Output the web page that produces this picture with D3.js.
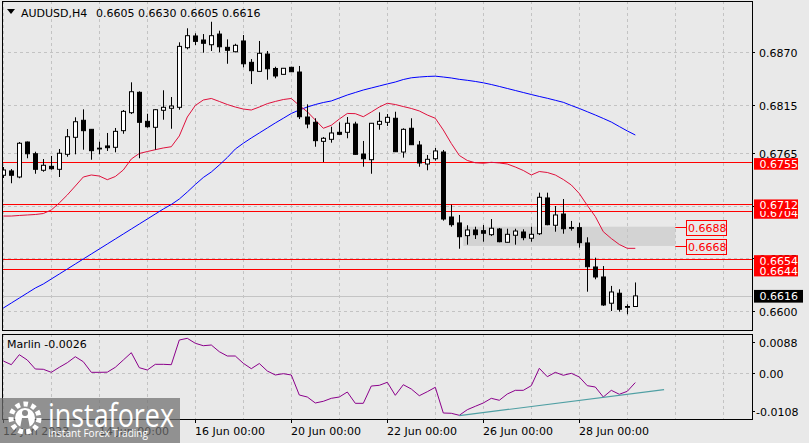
<!DOCTYPE html>
<html><head><meta charset="utf-8">
<script src="https://cdn.jsdelivr.net/npm/d3@7"></script>
<style>body{margin:0;background:#e9e9e9;} svg{display:block;}</style>
</head><body>
<svg id="c" width="809" height="443"></svg>
<script>
// ---------- data ----------
const days = ["12 Jun","13 Jun","14 Jun","15 Jun","16 Jun","19 Jun","20 Jun","21 Jun","22 Jun","23 Jun","26 Jun","27 Jun","28 Jun","29 Jun"];
const hours = ["00:00","04:00","08:00","12:00","16:00","20:00"];
const open = [0.67415,0.67460,0.67397,0.67761,0.67639,0.67467,0.67508,0.67477,0.67633,0.67810,
0.67987,0.67893,0.67697,0.67720,0.67706,0.67879,0.68066,0.68278,0.67976,0.67914,
0.68091,0.68112,0.68122,0.68742,0.68864,0.68822,0.68773,0.68884,0.68746,0.68700,
0.68812,0.68590,0.68496,0.68676,0.68526,0.68465,0.68538,0.68489,0.68021,0.67966,
0.67768,0.67789,0.67862,0.67862,0.67948,0.67636,0.67577,0.67945,0.67966,0.68008,
0.67657,0.67904,0.67730,0.67532,0.67587,0.67657,0.66981,0.66919,0.66787,0.66846,
0.66839,0.66797,0.66856,0.66718,0.66791,0.66825,0.66760,0.66807,0.67179,0.66895,
0.67012,0.66872,0.66870,0.66711,0.66461,0.66357,0.66084,0.66188,0.66050,0.66050];
const high = [0.67501,0.67480,0.67761,0.67766,0.67660,0.67584,0.67616,0.67688,0.67896,0.68018,
0.68101,0.67896,0.67764,0.67855,0.67907,0.68094,0.68382,0.68288,0.68055,0.68104,
0.68299,0.68229,0.68798,0.68944,0.68892,0.68884,0.69012,0.68919,0.68829,0.68783,
0.68874,0.68624,0.68812,0.68708,0.68544,0.68531,0.68544,0.68552,0.68153,0.68008,
0.67813,0.67920,0.67966,0.68021,0.67972,0.67772,0.67959,0.68070,0.68052,0.68076,
0.67904,0.68008,0.67772,0.67626,0.67699,0.67678,0.67109,0.67002,0.66895,0.66880,
0.66898,0.66960,0.66867,0.66859,0.66859,0.66853,0.66880,0.67234,0.67234,0.67095,
0.67168,0.66940,0.66922,0.66770,0.66558,0.66471,0.66264,0.66229,0.66073,0.66300];
const low = [0.67387,0.67332,0.67384,0.67592,0.67431,0.67452,0.67473,0.67397,0.67608,0.67633,
0.67681,0.67577,0.67633,0.67668,0.67654,0.67847,0.68052,0.67592,0.67910,0.67681,
0.67993,0.67899,0.68097,0.68725,0.68770,0.68690,0.68708,0.68694,0.68575,0.68694,
0.68538,0.68364,0.68494,0.68409,0.68424,0.68462,0.68489,0.68000,0.67904,0.67712,
0.67553,0.67754,0.67834,0.67800,0.67630,0.67504,0.67431,0.67889,0.67928,0.67657,
0.67598,0.67730,0.67504,0.67467,0.67567,0.66943,0.66880,0.66651,0.66693,0.66752,
0.66724,0.66784,0.66718,0.66716,0.66693,0.66739,0.66724,0.66794,0.66895,0.66828,
0.66807,0.66839,0.66662,0.66204,0.66333,0.66056,0.66003,0.65996,0.65969,0.66050];
const close = [0.67470,0.67415,0.67748,0.67639,0.67477,0.67519,0.67483,0.67644,0.67816,0.67972,
0.67879,0.67671,0.67694,0.67702,0.67872,0.68080,0.68284,0.67966,0.67920,0.68097,
0.68122,0.68136,0.68756,0.68867,0.68808,0.68788,0.68867,0.68752,0.68715,0.68767,
0.68575,0.68503,0.68684,0.68523,0.68448,0.68528,0.68492,0.68024,0.67948,0.67775,
0.67800,0.67855,0.67841,0.67956,0.67633,0.67587,0.67956,0.67976,0.68018,0.67660,
0.67893,0.67733,0.67543,0.67581,0.67668,0.66960,0.66901,0.66776,0.66846,0.66797,
0.66812,0.66864,0.66724,0.66801,0.66835,0.66766,0.66801,0.67186,0.66901,0.67002,
0.66859,0.66869,0.66714,0.66464,0.66357,0.66066,0.66201,0.66021,0.66047,0.66160];
const maFast = [0.66991,0.66991,0.66997,0.67002,0.67007,0.67017,0.67054,0.67127,0.67210,0.67303,
0.67397,0.67418,0.67407,0.67369,0.67402,0.67470,0.67584,0.67642,0.67662,0.67681,
0.67699,0.67712,0.67824,0.68021,0.68141,0.68198,0.68214,0.68183,0.68151,0.68125,
0.68104,0.68094,0.68125,0.68160,0.68183,0.68203,0.68214,0.68141,0.68076,0.67990,
0.67904,0.67935,0.68000,0.68058,0.68056,0.68024,0.68073,0.68125,0.68164,0.68151,
0.68130,0.68110,0.68084,0.68042,0.68008,0.67886,0.67746,0.67621,0.67569,0.67545,
0.67540,0.67550,0.67543,0.67532,0.67501,0.67465,0.67418,0.67454,0.67444,0.67418,
0.67371,0.67314,0.67225,0.67101,0.66986,0.66828,0.66757,0.66695,0.66655,0.66655];
const maSlow = [0.66034,0.66086,0.66138,0.66190,0.66242,0.66284,0.66336,0.66388,0.66440,0.66492,
0.66544,0.66596,0.66648,0.66700,0.66752,0.66804,0.66856,0.66908,0.66960,0.67012,
0.67064,0.67111,0.67168,0.67241,0.67319,0.67392,0.67449,0.67522,0.67600,0.67688,
0.67748,0.67803,0.67855,0.67907,0.67959,0.68008,0.68058,0.68094,0.68125,0.68151,
0.68172,0.68188,0.68219,0.68250,0.68276,0.68302,0.68323,0.68344,0.68365,0.68385,
0.68411,0.68429,0.68437,0.68443,0.68446,0.68437,0.68427,0.68413,0.68403,0.68391,
0.68377,0.68359,0.68339,0.68318,0.68297,0.68276,0.68255,0.68235,0.68216,0.68195,
0.68174,0.68141,0.68110,0.68076,0.68042,0.68006,0.67969,0.67922,0.67876,0.67834];
const marlin = [0.00332,0.00227,0.00511,0.00360,0.00105,0.00097,0.00011,0.00153,0.00284,0.00454,
0.00312,0.00011,0.00011,0.00015,0.00153,0.00360,0.00568,0.00142,0.00077,0.00238,
0.00238,0.00227,0.00928,0.00976,0.00835,0.00766,0.00786,0.00596,0.00474,0.00474,
0.00267,0.00114,0.00261,0.00048,-0.00065,-0.00028,-0.00065,-0.00633,-0.00690,-0.00860,
-0.00812,-0.00727,-0.00690,-0.00548,-0.00869,-0.00869,-0.00378,-0.00358,-0.00272,-0.00642,
-0.00341,-0.00463,-0.00653,-0.00539,-0.00414,-0.01144,-0.01152,-0.01209,-0.01050,-0.00954,
-0.00860,-0.00727,-0.00783,-0.00605,-0.00500,-0.00500,-0.00369,0.00125,-0.00114,0.00011,
-0.00074,-0.00017,-0.00122,-0.00369,-0.00406,-0.00690,-0.00500,-0.00613,-0.00528,-0.00280];
const levels = [0.6704, 0.6712, 0.6654, 0.6644, 0.6755];   // drawn in this order
const priceTicks = [0.6870, 0.6815, 0.6765, 0.6710, 0.6655, 0.6600];
const marlinTicks = [0.0088, 0, -0.0108];
const marlinTickLabels = ["0.0088", "0.00", "-0.0108"];
const zone = [0.6688, 0.6668];
const zoneBars = [57.5, 84];
const lastPrice = 0.6616;
const trendBars = [57, 82.6];
const trendVals = [-0.0122, -0.0048];
const symbol = "AUDUSD,H4";
const marlinName = "Marlin";
const marlinLast = "-0.0026";

// ---------- build ----------
const categories = [];
days.forEach(d => hours.forEach(h => categories.push(d + " " + h)));
const bars = open.map((o, i) => ({i, o, h: high[i], l: low[i], c: close[i], t: categories[i]}));

const svg = d3.select("#c");
const FONT = "DejaVu Sans";
const L = 2, R = 752, T = 1, B = 330, IT = 334, IB = 419;
const x = d3.scaleLinear().domain([0, 79]).range([3.3, 635.3]);
const y = d3.scaleLinear().domain([0.658055, 0.692175]).range([330, 2]);
const yi = d3.scaleLinear().domain([-0.013284, 0.010985]).range([419.5, 334]);
const px = v => Math.round(v);

svg.append("rect").attr("width", 809).attr("height", 443).attr("fill", "#e9e9e9");

const defs = svg.append("defs");
defs.append("clipPath").attr("id", "cm").append("rect").attr("x", L + 1).attr("y", T + 1).attr("width", R - L - 1).attr("height", B - T - 1);
defs.append("clipPath").attr("id", "ci").append("rect").attr("x", L + 1).attr("y", IT + 1).attr("width", R - L - 1).attr("height", IB - IT - 1);

const gm = svg.append("g").attr("clip-path", "url(#cm)");
const gi = svg.append("g").attr("clip-path", "url(#ci)");

// zone rectangle
gm.append("rect").attr("x", x(zoneBars[0])).attr("y", y(zone[0]))
  .attr("width", x(zoneBars[1]) - x(zoneBars[0])).attr("height", y(zone[1]) - y(zone[0]))
  .attr("fill", "#d3d3d3");

// grid
const gridIdx = d3.range(0, 130, 6).filter(i => x(i) < R);
const gridStyle = s => s.attr("stroke", "#c3c3c3").attr("stroke-dasharray", "3,3").attr("stroke-width", 1);
gm.selectAll(".vg").data(gridIdx).join("line").attr("x1", i => px(x(i)) + 0.5).attr("x2", i => px(x(i)) + 0.5)
  .attr("y1", T).attr("y2", B).call(gridStyle);
gm.selectAll(".hg").data(priceTicks).join("line").attr("x1", L).attr("x2", R)
  .attr("y1", d => px(y(d)) + 0.5).attr("y2", d => px(y(d)) + 0.5).call(gridStyle);
gi.selectAll(".vg").data(gridIdx).join("line").attr("x1", i => px(x(i)) + 0.5).attr("x2", i => px(x(i)) + 0.5)
  .attr("y1", IT).attr("y2", IB).call(gridStyle);
gi.append("line").attr("x1", L).attr("x2", R).attr("y1", px(yi(0)) + 0.5).attr("y2", px(yi(0)) + 0.5).call(gridStyle);

// current price line
gm.append("line").attr("x1", L).attr("x2", R).attr("y1", px(y(lastPrice)) + 0.5).attr("y2", px(y(lastPrice)) + 0.5)
  .attr("stroke", "#c4c4c4");

// horizontal levels
gm.selectAll(".lv").data(levels).join("line").attr("x1", L).attr("x2", R)
  .attr("y1", d => px(y(d)) + 0.5).attr("y2", d => px(y(d)) + 0.5).attr("stroke", "#ff0000").attr("stroke-width", 1);

// moving averages
const lineGen = d3.line().x((d, i) => x(i)).y(d => y(d));
gm.append("path").datum(maSlow).attr("d", lineGen).attr("fill", "none").attr("stroke", "#0000ff").attr("stroke-width", 1);
gm.append("path").datum(maFast).attr("d", lineGen).attr("fill", "none").attr("stroke", "#e0103c").attr("stroke-width", 1);

// candles
const cg = gm.selectAll(".cd").data(bars).join("g");
cg.append("line").attr("x1", d => px(x(d.i)) + 0.5).attr("x2", d => px(x(d.i)) + 0.5)
  .attr("y1", d => y(d.h)).attr("y2", d => y(d.l)).attr("stroke", "#000");
cg.append("rect")
  .attr("x", d => px(x(d.i)) - 2 + 0.5).attr("width", 4)
  .attr("y", d => Math.min(y(d.o), y(d.c)))
  .attr("height", d => Math.max(0.8, Math.abs(y(d.o) - y(d.c))))
  .attr("fill", d => d.c >= d.o ? "#ffffff" : "#000000")
  .attr("stroke", "#000").attr("stroke-width", 1);

// marlin
const mGen = d3.line().x((d, i) => x(i)).y(d => yi(d));
gi.append("path").datum(marlin).attr("d", mGen).attr("fill", "none").attr("stroke", "#8b008b").attr("stroke-width", 1);
gi.append("line").attr("x1", x(trendBars[0])).attr("y1", yi(trendVals[0])).attr("x2", x(trendBars[1])).attr("y2", yi(trendVals[1]))
  .attr("stroke", "#4f9fa3").attr("stroke-width", 1.2);

// frames
svg.append("rect").attr("x", L + 0.5).attr("y", T + 0.5).attr("width", R - L).attr("height", B - T)
  .attr("fill", "none").attr("stroke", "#000");
svg.append("rect").attr("x", L + 0.5).attr("y", IT + 0.5).attr("width", R - L).attr("height", IB - IT)
  .attr("fill", "none").attr("stroke", "#000");

// right axis labels
const txt = (g, xx, yy, s, col, anchor) => g.append("text").attr("x", xx).attr("y", yy).text(s)
  .attr("font-family", FONT).attr("font-size", 11).attr("fill", col || "#000").attr("text-anchor", anchor || "start");
const priceTickLabels = priceTicks.map(d => d.toFixed(4));
priceTicks.forEach((d, k) => {
  const yy = px(y(d)) + 0.5;
  svg.append("line").attr("x1", R).attr("x2", R + 3).attr("y1", yy).attr("y2", yy).attr("stroke", "#000");
  txt(svg, 759, yy + 4.5, priceTickLabels[k]);
});
marlinTicks.forEach((d, k) => {
  const yy = px(yi(d)) + 0.5;
  svg.append("line").attr("x1", R).attr("x2", R + 3).attr("y1", yy).attr("y2", yy).attr("stroke", "#000");
  txt(svg, d < 0 ? 756 : 759, yy + 4.5, marlinTickLabels[k]);
});
levels.forEach(d => {
  const yy = y(d);
  svg.append("rect").attr("x", 754).attr("y", yy - 4.2).attr("width", 44).attr("height", 11.6).attr("fill", "#ff0000");
  txt(svg, 759.5, yy + 5.8, d.toFixed(4), "#ffffff");
});
{
  const yy = y(lastPrice);
  svg.append("rect").attr("x", 754).attr("y", yy - 6).attr("width", 49).attr("height", 12.7).attr("fill", "#000");
  txt(svg, 759.5, yy + 4.2, lastPrice.toFixed(4), "#ffffff");
}
// zone labels
zone.forEach(d => {
  const yy = y(d);
  svg.append("line").attr("x1", x(zoneBars[1])).attr("x2", 686).attr("y1", px(yy) + 0.5).attr("y2", px(yy) + 0.5).attr("stroke", "#ff0000");
  svg.append("rect").attr("x", 686.5).attr("y", px(yy) - 7 + 0.5).attr("width", 40).attr("height", 15).attr("fill", "none").attr("stroke", "#ff0000");
  txt(svg, 688, yy + 5.5, d.toFixed(4), "#ff0000");
});

// bottom axis
const tickIdx = bars.filter(b => b.t.endsWith("00:00") && days.indexOf(b.t.slice(0, 6)) % 2 === 0).map(b => b.i);
tickIdx.forEach((i, k) => {
  const xx = px(x(i)) + 0.5;
  svg.append("line").attr("x1", xx).attr("x2", xx).attr("y1", IB).attr("y2", IB + 4).attr("stroke", "#000");
  const lab = k === 0 ? categories[i].slice(0, 6) + " 2023" : categories[i];
  txt(svg, xx - 0.5, 435, lab);
});

// header
svg.append("path").attr("d", "M7,9 L15,9 L11,14 Z").attr("fill", "#000");
txt(svg, 21, 17, symbol);
const last = bars[bars.length - 1];
txt(svg, 96, 17, [last.o, last.h, last.l, last.c].map(v => v.toFixed(4)).join(" "));
txt(svg, 7, 348, marlinName + " " + marlinLast);

// watermark
const wm = svg.append("g");
wm.append("rect").attr("x", 0).attr("y", 398).attr("width", 180).attr("height", 45).attr("fill", "#6f6f6f").attr("opacity", 0.72);
wm.append("circle").attr("cx", 25).attr("cy", 418).attr("r", 14).attr("fill", "none").attr("stroke", "#ffffff").attr("stroke-width", 5).attr("stroke-dasharray", "4.5,3.5");
wm.append("circle").attr("cx", 25).attr("cy", 418).attr("r", 10).attr("fill", "#ffffff");
wm.append("circle").attr("cx", 25).attr("cy", 413).attr("r", 3).attr("fill", "#8a8a8a");
wm.append("path").attr("d", "M20,428 L22,418 L28,418 L30,428 Z").attr("fill", "#8a8a8a");
wm.append("text").attr("x", 48).attr("y", 427).text("instaforex").attr("font-family", "Open Sans").attr("font-size", 33)
  .attr("fill", "#ffffff").attr("textLength", 126).attr("lengthAdjust", "spacingAndGlyphs");
wm.append("text").attr("x", 48).attr("y", 437).text("Instant Forex Trading").attr("font-family", "Open Sans").attr("font-size", 11)
  .attr("fill", "#ffffff").attr("textLength", 100).attr("lengthAdjust", "spacingAndGlyphs");
</script>
</body></html>
